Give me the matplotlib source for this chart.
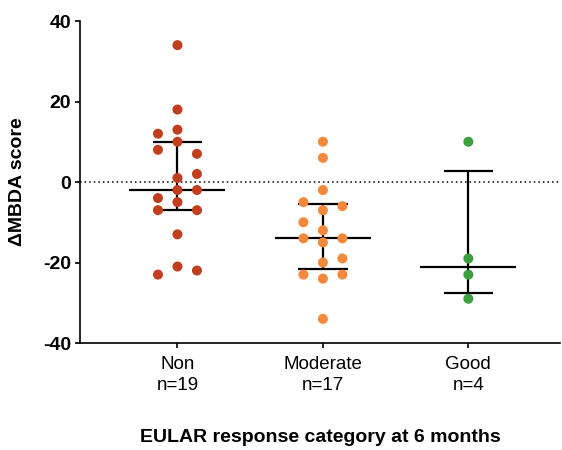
import numpy as np
import matplotlib.pyplot as plt

plt.rcParams['font.family'] = ['Liberation Sans', 'DejaVu Sans']
plt.rcParams['axes.unicode_minus'] = False

# EULAR response groups
categories = ['Non\nn=19', 'Moderate\nn=17', 'Good\nn=4']
colors = ['#BF3F1F', '#F5883A', '#3D9F3D']

# change in MBDA score per patient
non_vals = [34, 18, 13, 12, 10, 8, 7, 2, 1, -2, -2, -4, -5, -7, -7, -13, -21, -22, -23]
moderate_vals = [10, 6, -2, -5, -6, -7, -10, -12, -14, -14, -15, -19, -20, -23, -23, -24, -34]
good_vals = [10, -19, -23, -29]

# column slot of each dot in the scatter (-1 left, 0 centre, 1 right)
non_slots = [0, 0, 0, -1, 0, -1, 1, 1, 0, 0, 1, -1, 0, -1, 1, 0, 0, 1, -1]
moderate_slots = [0, 0, 0, -1, 1, 0, -1, 0, -1, 1, 0, 1, 0, -1, 1, 0, 0]
good_slots = [0, 0, 0, 0]

groups = [non_vals, moderate_vals, good_vals]
slots = [non_slots, moderate_slots, good_slots]

fig = plt.figure(figsize=(5.62, 4.5), dpi=100)
ax = fig.add_axes([80 / 562, 1 - 343 / 450, 480 / 562, 322 / 450])

ax.axhline(0, color='black', linestyle=(0, (1, 2)), linewidth=1.1, zorder=1)

for i, (vals, sl, c) in enumerate(zip(groups, slots, colors)):
    v = np.array(vals, dtype=float)
    med = np.median(v)
    q1, q3 = np.percentile(v, [25, 75], method='weibull')
    # median with interquartile range
    ax.hlines(med, i - 0.33, i + 0.33, color='black', linewidth=1.6, zorder=2)
    ax.hlines([q1, q3], i - 0.17, i + 0.17, color='black', linewidth=1.6, zorder=2)
    ax.vlines(i, q1, q3, color='black', linewidth=1.6, zorder=2)
    x = i + 0.134 * np.array(sl)
    ax.scatter(x, v, s=52, color=c, edgecolors='none', zorder=3)

ax.set_xlim(-0.67, 2.63)
ax.set_ylim(-40, 40)
ax.set_yticks([-40, -20, 0, 20, 40])
ax.set_xticks(range(3))
ax.set_xticklabels(categories, fontsize=13.5, linespacing=1.3)
for lab in ax.get_yticklabels():
    lab.set_fontweight('bold')
    lab.set_fontsize(14)

ax.spines['top'].set_visible(False)
ax.spines['right'].set_visible(False)
ax.spines['left'].set_linewidth(1.2)
ax.spines['bottom'].set_linewidth(1.2)
ax.tick_params(axis='y', length=3.5, width=1.2, pad=3)
ax.tick_params(axis='x', length=3.5, width=1.2, pad=6)

ax.set_ylabel('ΔMBDA score', fontsize=14, fontweight='bold', labelpad=12)
ax.set_xlabel('EULAR response category at 6 months', fontsize=14,
              fontweight='bold', labelpad=25)

fig.savefig('out.png', dpi=100)
